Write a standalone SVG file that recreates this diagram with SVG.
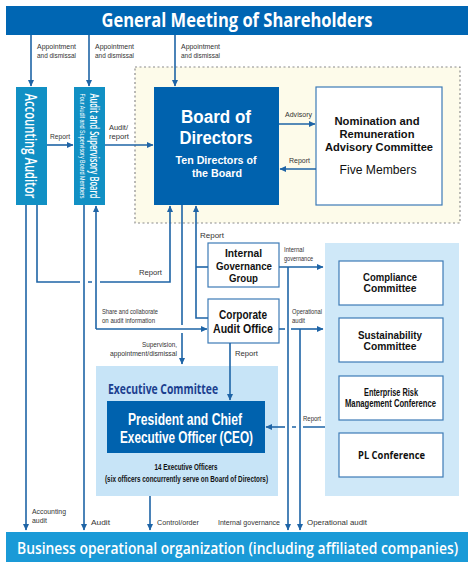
<svg xmlns="http://www.w3.org/2000/svg" width="474" height="568" viewBox="0 0 474 568">
<style>
text{font-family:"Open Sans","Noto Sans","Liberation Sans",sans-serif}
.ls{font-family:"Liberation Sans",Arial,sans-serif}
.w{fill:#fff}
.b{font-weight:700}
.sb{font-weight:600}
.k{fill:#111}
.l{font-family:"Liberation Sans",Arial,sans-serif;font-size:8px;fill:#333}
.ln{fill:none;stroke:#1e64a6;stroke-width:1.6}
.bx{fill:#fff;stroke:#3d7bb6;stroke-width:1.2}
</style>
<defs>
<marker id="ah" markerWidth="7" markerHeight="6" refX="6" refY="3" orient="auto" markerUnits="userSpaceOnUse"><path d="M0,0 L6.5,3 L0,6 z" fill="#1e64a6"/></marker>
</defs>
<rect width="474" height="568" fill="#fff"/>

<g id="gms">
<rect x="6" y="6" width="462" height="29" fill="#0066b3"/>
<text x="237" y="27" text-anchor="middle" class="w b" font-size="19" textLength="271" lengthAdjust="spacingAndGlyphs">General Meeting of Shareholders</text>
</g>

<g id="board-area">
<rect x="135" y="67" width="325" height="156" fill="#fdfbea" stroke="#8c8c8c" stroke-width="1.2" stroke-dasharray="2 2.5"/>
</g>

<g id="accounting-auditor">
<rect x="16" y="87" width="31" height="118" fill="#1190c4"/>
<text transform="translate(31,146) rotate(90)" x="0" y="6" text-anchor="middle" class="w sb" font-size="16" textLength="105" lengthAdjust="spacingAndGlyphs">Accounting Auditor</text>
</g>

<g id="audit-supervisory-board">
<rect x="74" y="87" width="31" height="118" fill="#1190c4"/>
<text transform="translate(89,146) rotate(90)" text-anchor="middle" class="w"><tspan x="0" y="-1" class="sb" font-size="13" textLength="105" lengthAdjust="spacingAndGlyphs">Audit and Supervisory Board</tspan><tspan x="0" y="9.5" class="ls" font-size="7" textLength="105" lengthAdjust="spacingAndGlyphs">Four Audit and Supervisory Board Members</tspan></text>
</g>

<g id="board-of-directors">
<rect x="154" y="87" width="125" height="118" fill="#0062ae"/>
<text text-anchor="middle" class="w b ls"><tspan x="216" y="123" font-size="18.8" textLength="70" lengthAdjust="spacingAndGlyphs">Board of</tspan><tspan x="216" y="144" font-size="18.8" textLength="73" lengthAdjust="spacingAndGlyphs">Directors</tspan><tspan x="216" y="164" font-size="11" textLength="81" lengthAdjust="spacingAndGlyphs">Ten Directors of</tspan><tspan x="217" y="176.5" font-size="11" textLength="50" lengthAdjust="spacingAndGlyphs">the Board</tspan></text>
</g>

<g id="nomination-committee">
<rect x="316" y="87" width="126" height="118" class="bx"/>
<text text-anchor="middle" class="k ls"><tspan x="377" y="125" class="b" font-size="11.6" textLength="85" lengthAdjust="spacingAndGlyphs">Nomination and</tspan><tspan x="377" y="138" class="b" font-size="11.6" textLength="75" lengthAdjust="spacingAndGlyphs">Remuneration</tspan><tspan x="379" y="151" class="b" font-size="11.6" textLength="108" lengthAdjust="spacingAndGlyphs">Advisory Committee</tspan><tspan x="378" y="174" font-size="13.5" textLength="77" lengthAdjust="spacingAndGlyphs">Five Members</tspan></text>
</g>

<g id="internal-governance-group">
<rect x="208" y="243" width="71" height="44" class="bx"/>
<text text-anchor="middle" class="k b ls" font-size="11.1"><tspan x="243.5" y="257" textLength="37" lengthAdjust="spacingAndGlyphs">Internal</tspan><tspan x="244" y="269.5" textLength="56" lengthAdjust="spacingAndGlyphs">Governance</tspan><tspan x="243.5" y="282" textLength="29" lengthAdjust="spacingAndGlyphs">Group</tspan></text>
</g>

<g id="corporate-audit-office">
<rect x="208" y="299" width="71" height="44" class="bx"/>
<text text-anchor="middle" class="k b ls" font-size="12.5"><tspan x="243" y="319" textLength="48" lengthAdjust="spacingAndGlyphs">Corporate</tspan><tspan x="243" y="333" textLength="60" lengthAdjust="spacingAndGlyphs">Audit Office</tspan></text>
</g>

<g id="committees-panel">
<rect x="325" y="243" width="134" height="253" fill="#cfe8f8"/>
</g>
<g id="compliance-committee">
<rect x="339" y="261" width="104" height="44" class="bx"/>
<text text-anchor="middle" class="k b ls" font-size="10.2"><tspan x="390" y="280.5" textLength="54" lengthAdjust="spacingAndGlyphs">Compliance</tspan><tspan x="390" y="292" textLength="53" lengthAdjust="spacingAndGlyphs">Committee</tspan></text>
</g>
<g id="sustainability-committee">
<rect x="339" y="318" width="104" height="44" class="bx"/>
<text text-anchor="middle" class="k b ls" font-size="10.2"><tspan x="390" y="338.5" textLength="64" lengthAdjust="spacingAndGlyphs">Sustainability</tspan><tspan x="390" y="350" textLength="53" lengthAdjust="spacingAndGlyphs">Committee</tspan></text>
</g>
<g id="erm-conference">
<rect x="339" y="376" width="104" height="44" class="bx"/>
<text text-anchor="middle" class="k b ls" font-size="10"><tspan x="391" y="395.5" textLength="54" lengthAdjust="spacingAndGlyphs">Enterprise Risk</tspan><tspan x="390.5" y="407" textLength="91" lengthAdjust="spacingAndGlyphs">Management Conference</tspan></text>
</g>
<g id="pl-conference">
<rect x="339" y="433" width="104" height="44" class="bx"/>
<text x="391.5" y="459" text-anchor="middle" class="k b" font-size="11" textLength="67" lengthAdjust="spacingAndGlyphs">PL Conference</text>
</g>

<g id="executive-committee">
<rect x="96" y="366" width="182" height="130" fill="#c7e4f7"/>
<text x="108" y="394" class="b" fill="#1b3f8f" font-size="15" textLength="110" lengthAdjust="spacingAndGlyphs">Executive Committee</text>
<text text-anchor="middle" class="k b ls" font-size="9"><tspan x="186" y="470" textLength="63" lengthAdjust="spacingAndGlyphs">14 Executive Officers</tspan><tspan x="186.5" y="482" textLength="163" lengthAdjust="spacingAndGlyphs">(six officers concurrently serve on Board of Directors)</tspan></text>
</g>
<g id="ceo">
<rect x="107" y="401" width="158" height="52" fill="#0062ae"/>
<text text-anchor="middle" class="w b ls" font-size="16"><tspan x="185" y="425" textLength="114" lengthAdjust="spacingAndGlyphs">President and Chief</tspan><tspan x="186.5" y="443" textLength="133" lengthAdjust="spacingAndGlyphs">Executive Officer (CEO)</tspan></text>
</g>

<g id="business-organization">
<rect x="6" y="532" width="462" height="30" fill="#1a9ad7"/>
<text transform="translate(237.5,554) scale(0.74,1)" x="0" y="0" text-anchor="middle" class="w sb" font-size="17" textLength="596" lengthAdjust="spacingAndGlyphs">Business operational organization (including affiliated companies)</text>
</g>

<g id="connectors">
<path class="ln" d="M31,35 V86" marker-end="url(#ah)"/>
<path class="ln" d="M89,35 V86" marker-end="url(#ah)"/>
<path class="ln" d="M175,35 V86" marker-end="url(#ah)"/>
<path class="ln" d="M47,145 H73" marker-end="url(#ah)"/>
<path class="ln" d="M105,145 H153" marker-end="url(#ah)"/>
<path class="ln" d="M279,124 H315" marker-end="url(#ah)"/>
<path class="ln" d="M316,169 H280" marker-end="url(#ah)"/>
<path class="ln" d="M26,205 V530" marker-end="url(#ah)"/>
<path class="ln" d="M37,205 V282 H80 M88,282 H92"/>
<path class="ln" d="M100,282 H170 V206" marker-end="url(#ah)"/>
<path class="ln" d="M84,205 V530" marker-end="url(#ah)"/>
<path class="ln" d="M96,329 V206" marker-end="url(#ah)"/>
<path class="ln" d="M96,329 H207" marker-end="url(#ah)"/>
<path class="ln" d="M182,205 V325"/>
<path class="ln" d="M182,333 V364" marker-end="url(#ah)"/>
<path class="ln" d="M208,318 H196 V206" marker-end="url(#ah)"/>
<path class="ln" d="M208,267 H196"/>
<path class="ln" d="M279,267 H323" marker-end="url(#ah)"/>
<path class="ln" d="M288,267 V530" marker-end="url(#ah)"/>
<path class="ln" d="M279,329 H285"/>
<path class="ln" d="M291,329 H323" marker-end="url(#ah)"/>
<path class="ln" d="M300,329 V530" marker-end="url(#ah)"/>
<path class="ln" d="M230,343 V400" marker-end="url(#ah)"/>
<path class="ln" d="M325,427 H303 M296,427 H292"/>
<path class="ln" d="M285,427 H266" marker-end="url(#ah)"/>
<path class="ln" d="M150,496 V530" marker-end="url(#ah)"/>

<text class="l"><tspan x="37" y="49" textLength="39" lengthAdjust="spacingAndGlyphs">Appointment</tspan><tspan x="37" y="58" textLength="39" lengthAdjust="spacingAndGlyphs">and dismissal</tspan></text>
<text class="l"><tspan x="95" y="49" textLength="39" lengthAdjust="spacingAndGlyphs">Appointment</tspan><tspan x="95" y="58" textLength="39" lengthAdjust="spacingAndGlyphs">and dismissal</tspan></text>
<text class="l"><tspan x="181" y="49" textLength="39" lengthAdjust="spacingAndGlyphs">Appointment</tspan><tspan x="181" y="58" textLength="39" lengthAdjust="spacingAndGlyphs">and dismissal</tspan></text>
<text class="l" x="50" y="139" textLength="20" lengthAdjust="spacingAndGlyphs">Report</text>
<text class="l"><tspan x="109" y="130" textLength="19" lengthAdjust="spacingAndGlyphs">Audit/</tspan><tspan x="109" y="139" textLength="20" lengthAdjust="spacingAndGlyphs">report</tspan></text>
<text class="l" x="285" y="117" textLength="27" lengthAdjust="spacingAndGlyphs">Advisory</text>
<text class="l" x="289" y="163" textLength="21" lengthAdjust="spacingAndGlyphs">Report</text>
<text class="l" x="200" y="238" textLength="24" lengthAdjust="spacingAndGlyphs">Report</text>
<text class="l" x="139" y="275" textLength="23" lengthAdjust="spacingAndGlyphs">Report</text>
<text class="l"><tspan x="284" y="252" textLength="20" lengthAdjust="spacingAndGlyphs">Internal</tspan><tspan x="284" y="261" textLength="29" lengthAdjust="spacingAndGlyphs">governance</tspan></text>
<text class="l"><tspan x="102" y="314" textLength="56" lengthAdjust="spacingAndGlyphs">Share and collaborate</tspan><tspan x="102" y="323" textLength="53" lengthAdjust="spacingAndGlyphs">on audit information</tspan></text>
<text class="l"><tspan x="292" y="314" textLength="30" lengthAdjust="spacingAndGlyphs">Operational</tspan><tspan x="292" y="323" textLength="13" lengthAdjust="spacingAndGlyphs">audit</tspan></text>
<text class="l" text-anchor="end"><tspan x="177" y="347" textLength="35" lengthAdjust="spacingAndGlyphs">Supervision,</tspan><tspan x="177" y="356" textLength="67" lengthAdjust="spacingAndGlyphs">appointment/dismissal</tspan></text>
<text class="l" x="235" y="356" textLength="23" lengthAdjust="spacingAndGlyphs">Report</text>
<text class="l" x="303" y="421" textLength="18" lengthAdjust="spacingAndGlyphs">Report</text>
<text class="l"><tspan x="32" y="514" textLength="34" lengthAdjust="spacingAndGlyphs">Accounting</tspan><tspan x="32" y="523" textLength="15" lengthAdjust="spacingAndGlyphs">audit</tspan></text>
<text class="l" x="91" y="525" textLength="19" lengthAdjust="spacingAndGlyphs">Audit</text>
<text class="l" x="157" y="525" textLength="42" lengthAdjust="spacingAndGlyphs">Control/order</text>
<text class="l" x="218" y="525" textLength="62" lengthAdjust="spacingAndGlyphs">Internal governance</text>
<text class="l" x="307" y="525" textLength="60" lengthAdjust="spacingAndGlyphs">Operational audit</text>
</g>
</svg>
